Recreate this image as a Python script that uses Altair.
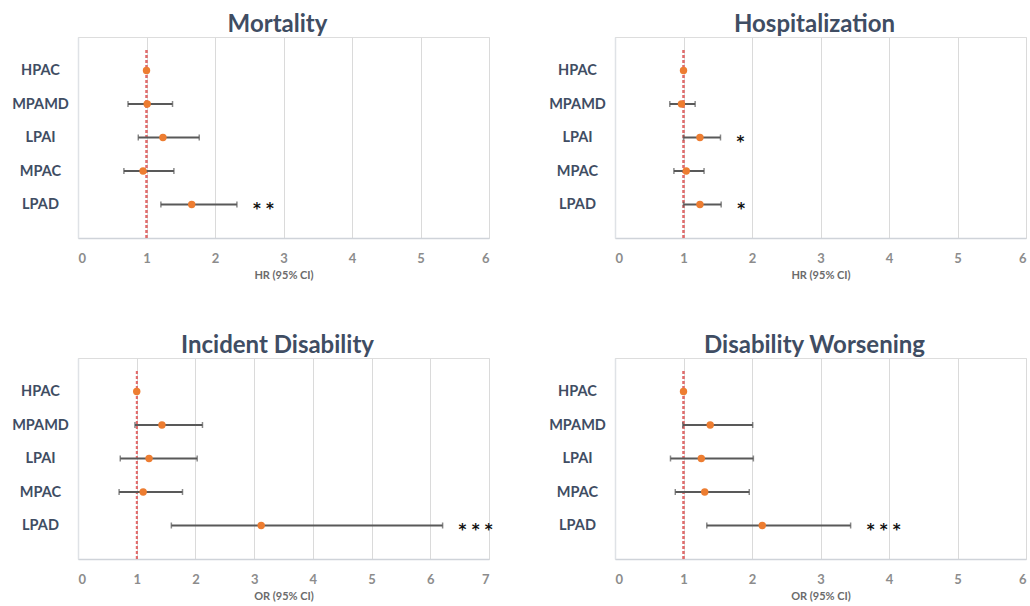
import altair as alt
import pandas as pd

# Exposure groups, listed top to bottom, and the row each sits on
groups = ["HPAC", "MPAMD", "LPAI", "MPAC", "LPAD"]
rows = [5, 4, 3, 2, 1]

# Mortality (hazard ratios)
mort_est = [1.00, 1.01, 1.24, 0.95, 1.66]
mort_lo = [None, 0.73, 0.88, 0.67, 1.21]
mort_hi = [None, 1.38, 1.77, 1.40, 2.32]
mort_sig = ["", "", "", "", "**"]

# Hospitalization (hazard ratios)
hosp_est = [1.00, 0.97, 1.24, 1.04, 1.24]
hosp_lo = [None, 0.80, 1.00, 0.86, 1.00]
hosp_hi = [None, 1.17, 1.54, 1.30, 1.55]
hosp_sig = ["", "", "*", "", "*"]

# Incident disability (odds ratios)
inc_est = [1.00, 1.43, 1.21, 1.11, 3.12]
inc_lo = [None, 0.97, 0.72, 0.70, 1.59]
inc_hi = [None, 2.12, 2.03, 1.78, 6.21]
inc_sig = ["", "", "", "", "***"]

# Disability worsening (odds ratios)
wors_est = [1.00, 1.39, 1.26, 1.31, 2.15]
wors_lo = [None, 0.99, 0.81, 0.88, 1.34]
wors_hi = [None, 2.01, 2.02, 1.96, 3.44]
wors_sig = ["", "", "", "", "***"]

SLATE = "#3f4d63"
ORANGE = "#ED7D31"
BAR = "#595959"
GRID = "#dadada"

label_list = "[" + ",".join(["''"] + ["'%s'" % g for g in reversed(groups)]) + "]"
label_expr = label_list + "[datum.value]"


def panel(title, axis_title, est, lo, hi, sig, xmax):
    df = pd.DataFrame({"group": groups, "row": rows, "est": est,
                       "lo": lo, "hi": hi, "sig": sig})
    xs = alt.Scale(domain=[0, xmax], nice=False, zero=True)
    ys = alt.Scale(domain=[0, 6], nice=False)
    base = alt.Chart(df)

    x_axis = alt.Axis(values=list(range(xmax + 1)), format="d", grid=True,
                      gridColor=GRID, gridWidth=1, domainColor="#cfd3d9",
                      domainWidth=1.5, ticks=False, tickSize=0, labelPadding=14,
                      labelFontSize=13, labelFont="Lato", labelFontWeight="bold",
                      labelColor="#8c8c8c", title=axis_title, titleFontSize=11,
                      titleFont="Lato", titleFontWeight="bold",
                      titleColor="#6b6b6b", titlePadding=4)
    y_axis = alt.Axis(values=[1, 2, 3, 4, 5], labelExpr=label_expr, grid=False,
                      ticks=False, tickSize=0, domainColor="#dfe2e6",
                      domainWidth=1.5, labelAlign="center", labelBaseline="middle",
                      labelPadding=38, labelFontSize=14.5, labelFont="Lato",
                      labelFontWeight="bold", labelColor=SLATE, title=None,
                      minExtent=74, maxExtent=74)

    frame = base.mark_point(opacity=0).encode(
        x=alt.X("est:Q", scale=xs, axis=x_axis),
        y=alt.Y("row:Q", scale=ys, axis=y_axis),
    )
    ref = base.mark_rule(color="#e06c6c", strokeDash=[3, 2], strokeWidth=1.5).encode(
        x=alt.datum(1), y=alt.datum(0), y2=alt.datum(5.65)
    )
    ci = base.transform_filter("isValid(datum.lo)")
    bars = ci.mark_rule(color=BAR, strokeWidth=2).encode(
        x="lo:Q", x2="hi:Q", y="row:Q"
    )
    cap_lo = ci.mark_tick(color=BAR, orient="vertical", size=6, thickness=1.5).encode(
        x="lo:Q", y="row:Q"
    )
    cap_hi = ci.mark_tick(color=BAR, orient="vertical", size=6, thickness=1.5).encode(
        x="hi:Q", y="row:Q"
    )
    dots = base.mark_circle(color=ORANGE, size=55, opacity=1).encode(
        x="est:Q", y="row:Q"
    )
    stars = ci.transform_filter("datum.sig != ''").mark_text(
        align="left", baseline="middle", dx=16, dy=4, fontSize=15,
        fontWeight="bold", font="DejaVu Sans", color="#111111"
    ).encode(x="hi:Q", y="row:Q", text="sig:N")

    return alt.layer(frame, ref, bars, cap_lo, cap_hi, dots, stars).properties(
        width=411, height=201,
        title=alt.TitleParams(title, fontSize=24, font="Lato", fontWeight="bold",
                              color=SLATE, anchor="middle", frame="group",
                              dx=-6, offset=0),
    )


# Stars are spaced apart like the original annotation
def spaced(s):
    return [" ".join(list(v)) for v in s]


p1 = panel("Mortality", "HR (95% CI)", mort_est, mort_lo, mort_hi, spaced(mort_sig), 6)
p2 = panel("Hospitalization", "HR (95% CI)", hosp_est, hosp_lo, hosp_hi, spaced(hosp_sig), 6)
p3 = panel("Incident Disability", "OR (95% CI)", inc_est, inc_lo, inc_hi, spaced(inc_sig), 7)
p4 = panel("Disability Worsening", "OR (95% CI)", wors_est, wors_lo, wors_hi, spaced(wors_sig), 6)

chart = alt.concat(
    p1, p2, p3, p4, columns=2,
    spacing={"row": 120, "column": 126}, bounds="flush",
).properties(
    padding={"left": 3, "top": 12, "right": 0, "bottom": 0}
).configure_view(stroke=None).configure(background="white")

chart.save("out.html", embed_options={"renderer": "svg", "actions": False})
